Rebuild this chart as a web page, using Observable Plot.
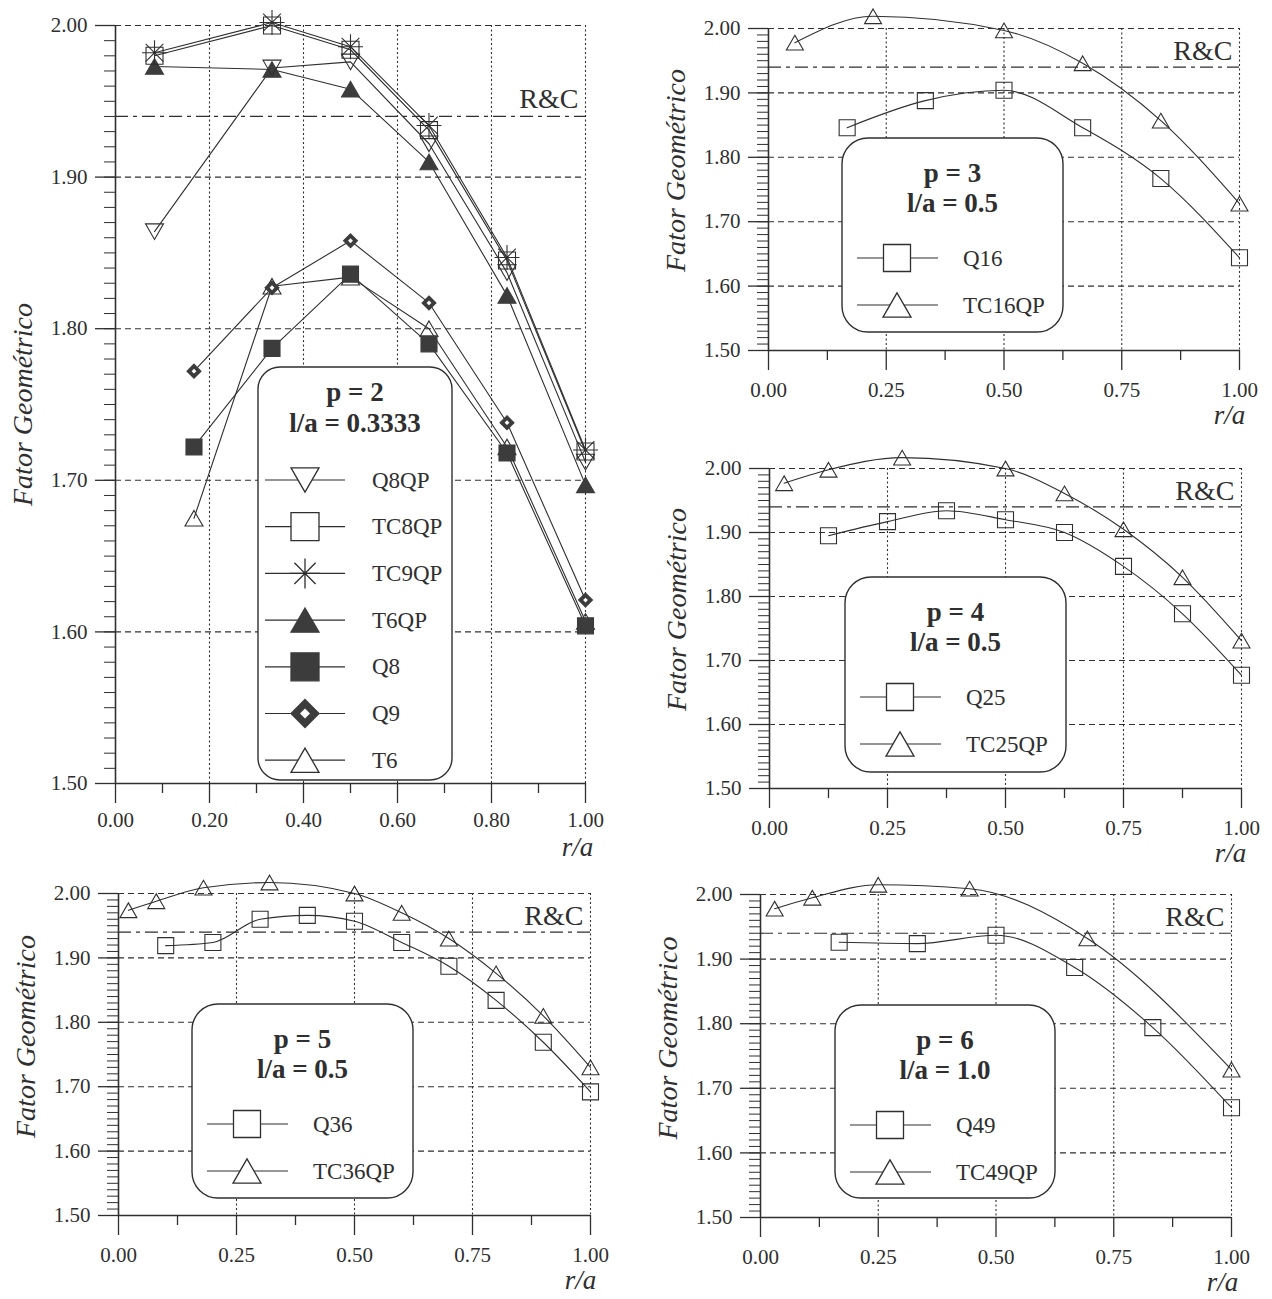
<!DOCTYPE html>
<html><head><meta charset="utf-8">
<script src="https://cdn.jsdelivr.net/npm/d3@7"></script>
<script src="https://cdn.jsdelivr.net/npm/@observablehq/plot@0.6"></script>
<style>
body{margin:0;background:#fff;}
#root{position:relative;width:1272px;height:1299px;background:#fff;overflow:hidden;font-family:"Liberation Serif","Times New Roman",serif;color:#2f2f2f;}
#root svg{position:absolute;}
</style></head><body><div id="root"></div>
<script>
// ---------------- DATA ----------------
const yLabel = "Fator Geométrico";
const xLabel = "r/a";
const rcLabel = "R&C";
const rcValue = 1.94;
const yTicks = [1.5, 1.6, 1.7, 1.8, 1.9, 2.0];
const yGridTicks = [1.6, 1.7, 1.8, 1.9, 2.0];
const yMinorTicks = d3.range(150, 201).map(d => d / 100);
const xTicksA = [0, 0.2, 0.4, 0.6, 0.8, 1.0];
const xMinorA = [0.1, 0.3, 0.5, 0.7, 0.9];
const xGridA = [0.2, 0.4, 0.6, 0.8, 1.0];
const xTicksR = [0, 0.25, 0.5, 0.75, 1.0];
const xMinorR = [0.125, 0.375, 0.625, 0.875];
const xGridR = [0.25, 0.5, 0.75, 1.0];

// Panel A: p = 2, l/a = 0.3333
const titleA = ["p = 2", "l/a = 0.3333"];
const xA_QP = [0.083, 0.333, 0.5, 0.667, 0.833, 1.0];
const xA_std = [0.167, 0.333, 0.5, 0.667, 0.833, 1.0];
const yA_Q8QP = [1.864, 1.972, 1.976, 1.922, 1.837, 1.712];
const yA_TC8QP = [1.980, 2.000, 1.984, 1.931, 1.845, 1.719];
const yA_TC9QP = [1.982, 2.002, 1.986, 1.934, 1.847, 1.720];
const yA_T6QP = [1.973, 1.971, 1.958, 1.910, 1.822, 1.697];
const yA_Q8 = [1.722, 1.787, 1.836, 1.790, 1.718, 1.604];
const yA_Q9 = [1.772, 1.827, 1.858, 1.817, 1.738, 1.621];
const yA_T6 = [1.675, 1.828, 1.834, 1.800, 1.722, 1.607];

// Panel B: p = 3, l/a = 0.5
const titleB = ["p = 3", "l/a = 0.5"];
const xB_Q16 = [0.167, 0.333, 0.5, 0.667, 0.833, 1.0];
const yB_Q16 = [1.846, 1.888, 1.904, 1.846, 1.767, 1.644];
const xB_TC16QP = [0.056, 0.222, 0.5, 0.667, 0.833, 1.0];
const yB_TC16QP = [1.978, 2.019, 1.997, 1.946, 1.857, 1.728];

// Panel C: p = 4, l/a = 0.5
const titleC = ["p = 4", "l/a = 0.5"];
const xC_Q25 = [0.125, 0.25, 0.375, 0.5, 0.625, 0.75, 0.875, 1.0];
const yC_Q25 = [1.895, 1.917, 1.934, 1.920, 1.900, 1.847, 1.773, 1.677];
const xC_TC25QP = [0.031, 0.125, 0.281, 0.5, 0.625, 0.75, 0.875, 1.0];
const yC_TC25QP = [1.977, 1.998, 2.017, 2.000, 1.961, 1.905, 1.830, 1.731];

// Panel D: p = 5, l/a = 0.5
const titleD = ["p = 5", "l/a = 0.5"];
const xD_Q36 = [0.1, 0.2, 0.3, 0.4, 0.5, 0.6, 0.7, 0.8, 0.9, 1.0];
const yD_Q36 = [1.919, 1.924, 1.960, 1.966, 1.957, 1.924, 1.887, 1.834, 1.769, 1.692];
const xD_TC36QP = [0.021, 0.08, 0.18, 0.32, 0.5, 0.6, 0.7, 0.8, 0.9, 1.0];
const yD_TC36QP = [1.974, 1.988, 2.009, 2.017, 2.000, 1.970, 1.930, 1.876, 1.810, 1.730];

// Panel E: p = 6, l/a = 1.0
const titleE = ["p = 6", "l/a = 1.0"];
const xE_Q49 = [0.167, 0.333, 0.5, 0.667, 0.833, 1.0];
const yE_Q49 = [1.926, 1.924, 1.937, 1.887, 1.794, 1.670];
const xE_TC49QP = [0.03, 0.11, 0.25, 0.444, 0.694, 1.0];
const yE_TC49QP = [1.978, 1.995, 2.015, 2.009, 1.932, 1.729];

// ---------------- STYLE ----------------
const INK = "#2f2f2f";
const DARK = "#3c3c3c";
function mk(draw) { return {draw(ctx, size) { draw(ctx, Math.sqrt(size / Math.PI)); }}; }
const SYM = {
  square: mk((c, r) => { c.moveTo(-r, -r); c.lineTo(r, -r); c.lineTo(r, r); c.lineTo(-r, r); c.closePath(); }),
  triUp: mk((c, r) => { const h = r * 0.866; c.moveTo(0, -h); c.lineTo(r, h); c.lineTo(-r, h); c.closePath(); }),
  triDown: mk((c, r) => { const h = r * 0.866; c.moveTo(0, h); c.lineTo(r, -h); c.lineTo(-r, -h); c.closePath(); }),
  diamond: mk((c, r) => { c.moveTo(0, -r); c.lineTo(r, 0); c.lineTo(0, r); c.lineTo(-r, 0); c.closePath(); }),
  star: mk((c, r) => { for (let k = 0; k < 4; k++) { const a = k * Math.PI / 4; c.moveTo(-r * Math.cos(a), -r * Math.sin(a)); c.lineTo(r * Math.cos(a), r * Math.sin(a)); } })
};
const STYLE = {
  Q8QP: {sym: "triDown", filled: false, r: 9, lr: 14},
  TC8QP: {sym: "square", filled: false, r: 8.5, lr: 14},
  TC9QP: {sym: "star", filled: false, r: 12.5, lr: 15},
  T6QP: {sym: "triUp", filled: true, r: 9, lr: 14},
  Q8: {sym: "square", filled: true, r: 8, lr: 14},
  Q9: {sym: "diamond", filled: true, r: 7, lr: 14, inner: true},
  T6: {sym: "triUp", filled: false, r: 9, lr: 14},
  sq: {sym: "square", filled: false, r: 8, lr: 13.5},
  tri: {sym: "triUp", filled: false, r: 8.5, lr: 14}
};
const rows = (xs, ys) => xs.map((x, i) => ({x, y: ys[i]}));

const panels = [
  {left: 0, top: 0, width: 620, height: 865, mt: 25, ml: 115, mr: 35, mb: 82, xTicks: xTicksA, xMinor: xMinorA, xGrid: xGridA,
   curve: "linear", xPad: 9, tDy: 0, rcDy: -17, xtDx: -8, xtDy: 72,
   series: [
     {name: "Q8QP", st: "Q8QP", d: rows(xA_QP, yA_Q8QP)},
     {name: "TC8QP", st: "TC8QP", d: rows(xA_QP, yA_TC8QP)},
     {name: "TC9QP", st: "TC9QP", d: rows(xA_QP, yA_TC9QP)},
     {name: "T6QP", st: "T6QP", d: rows(xA_QP, yA_T6QP)},
     {name: "Q8", st: "Q8", d: rows(xA_std, yA_Q8)},
     {name: "Q9", st: "Q9", d: rows(xA_std, yA_Q9)},
     {name: "T6", st: "T6", d: rows(xA_std, yA_T6)}
   ],
   drawOrder: ["T6", "Q8", "Q9", "T6QP", "Q8QP", "TC8QP", "TC9QP"],
   legend: {x: 258, y: 367, w: 194, h: 413, rx: 22, titles: titleA, tY: [25, 56], rowY0: 113, rowStep: 46.7, l1: 7, l2: 87, mx: 47, tx: 114}},
  {left: 640, top: 0, width: 624, height: 445, mt: 28, ml: 128, mr: 25, mb: 95, xTicks: xTicksR, xMinor: xMinorR, xGrid: xGridR,
   curve: "monotone-x", xPad: 12, tDy: -19, rcDy: -16, xtDx: -10, xtDy: 73,
   series: [{name: "Q16", st: "sq", d: rows(xB_Q16, yB_Q16)}, {name: "TC16QP", st: "tri", d: rows(xB_TC16QP, yB_TC16QP)}],
   legend: {x: 842, y: 138, w: 221, h: 194, rx: 26, titles: titleB}},
  {left: 640, top: 440, width: 626, height: 443, mt: 28, ml: 129, mr: 25, mb: 95, xTicks: xTicksR, xMinor: xMinorR, xGrid: xGridR,
   curve: "monotone-x", xPad: 12, tDy: -19, rcDy: -16, xtDx: -11, xtDy: 73,
   series: [{name: "Q25", st: "sq", d: rows(xC_Q25, yC_Q25)}, {name: "TC25QP", st: "tri", d: rows(xC_TC25QP, yC_TC25QP)}],
   legend: {x: 845, y: 577, w: 221, h: 195, rx: 26, titles: titleC}},
  {left: 0, top: 865, width: 620, height: 434, mt: 28, ml: 118, mr: 30, mb: 84, xTicks: xTicksR, xMinor: xMinorR, xGrid: xGridR,
   curve: "monotone-x", xPad: 12, tDy: -18, rcDy: -16, xtDx: -10, xtDy: 73,
   series: [{name: "Q36", st: "sq", d: rows(xD_Q36, yD_Q36)}, {name: "TC36QP", st: "tri", d: rows(xD_TC36QP, yD_TC36QP)}],
   legend: {x: 192, y: 1004, w: 221, h: 194, rx: 26, titles: titleD}},
  {left: 640, top: 866, width: 621, height: 433, mt: 28, ml: 120, mr: 30, mb: 82, xTicks: xTicksR, xMinor: xMinorR, xGrid: xGridR,
   curve: "monotone-x", xPad: 12, tDy: -18, rcDy: -16, xtDx: -9, xtDy: 73,
   series: [{name: "Q49", st: "sq", d: rows(xE_Q49, yE_Q49)}, {name: "TC49QP", st: "tri", d: rows(xE_TC49QP, yE_TC49QP)}],
   legend: {x: 835, y: 1005, w: 220, h: 193, rx: 26, titles: titleE}}
];
const rightLegendLayout = {tY: [35, 65], rowY0: 120, rowStep: 47, l1: 15, l2: 96, mx: 55, tx: 121};

const root = document.getElementById("root");

function dotMarks(s) {
  const st = STYLE[s.st];
  const out = [Plot.dot(s.d, {x: "x", y: "y", symbol: SYM[st.sym], r: st.r,
    fill: st.filled ? DARK : "none", stroke: st.filled ? DARK : INK, strokeWidth: 1.1})];
  if (st.inner) out.push(Plot.dot(s.d, {x: "x", y: "y", symbol: SYM.diamond, r: 2.4, fill: "white", stroke: "none"}));
  return out;
}

for (const p of panels) {
  const order = p.drawOrder ? p.drawOrder.map(n => p.series.find(s => s.name === n)) : p.series;
  const marks = [
    Plot.ruleY(yGridTicks, {stroke: INK, strokeWidth: 1.1, strokeDasharray: "6,4"}),
    Plot.ruleX(p.xGrid, {stroke: INK, strokeWidth: 1.1, strokeDasharray: "2,2.5"}),
    Plot.ruleY([rcValue], {stroke: INK, strokeWidth: 1.2, strokeDasharray: "13,5,4,5"}),
    Plot.axisY(yMinorTicks, {anchor: "left", tickSize: 11, tickFormat: () => "", label: null, strokeWidth: 1}),
    Plot.axisY(yTicks, {anchor: "left", tickSize: 20, tickPadding: 8, tickFormat: d => d.toFixed(2), label: null, fontSize: 21, strokeWidth: 1.3}),
    Plot.axisX(p.xMinor, {anchor: "bottom", tickSize: 10, tickFormat: () => "", label: null, strokeWidth: 1.3}),
    Plot.axisX(p.xTicks, {anchor: "bottom", tickSize: 20, tickPadding: p.xPad, tickFormat: d => d.toFixed(2), label: null, fontSize: 21, strokeWidth: 1.3}),
    Plot.ruleX([0], {stroke: INK, strokeWidth: 1.6}),
    Plot.ruleY([1.5], {stroke: INK, strokeWidth: 1.6}),
    ...p.series.map(s => Plot.line(s.d, {x: "x", y: "y", stroke: INK, strokeWidth: 1.1, curve: p.curve})),
    ...order.flatMap(dotMarks),
    Plot.text([{v: rcValue, t: rcLabel}], {y: "v", text: "t", frameAnchor: "right", textAnchor: "end", dx: -7, dy: p.rcDy, fontSize: 28, fill: INK}),
    Plot.text([yLabel], {text: d => d, frameAnchor: "left", textAnchor: "middle", rotate: -90, dx: -92, dy: p.tDy, fontSize: 28, fontStyle: "italic", fill: INK}),
    Plot.text([xLabel], {text: d => d, frameAnchor: "bottom-right", textAnchor: "middle", dx: p.xtDx, dy: p.xtDy, fontSize: 27, fontStyle: "italic", fill: INK})
  ];
  const svg = Plot.plot({
    width: p.width, height: p.height,
    marginTop: p.mt, marginLeft: p.ml, marginRight: p.mr, marginBottom: p.mb,
    x: {domain: [0, 1]}, y: {domain: [1.5, 2.0]},
    style: {fontFamily: '"Liberation Serif", "Times New Roman", serif', color: INK, background: "transparent", overflow: "visible"},
    marks
  });
  svg.style.position = "absolute";
  svg.style.left = p.left + "px";
  svg.style.top = p.top + "px";
  root.appendChild(svg);

  // legend box
  const L = Object.assign({}, rightLegendLayout, p.legend);
  const lg = d3.create("svg").attr("width", L.w + 4).attr("height", L.h + 4)
    .style("left", (L.x - 2) + "px").style("top", (L.y - 2) + "px").style("overflow", "visible");
  lg.append("rect").attr("x", 2).attr("y", 2).attr("width", L.w).attr("height", L.h).attr("rx", L.rx)
    .attr("fill", "white").attr("stroke", INK).attr("stroke-width", 1.4);
  L.titles.forEach((t, i) => lg.append("text").attr("x", 2 + L.w / 2).attr("y", 2 + L.tY[i]).attr("text-anchor", "middle")
    .attr("dominant-baseline", "central").attr("font-weight", "bold").attr("font-size", 27).attr("fill", INK)
    .attr("font-family", '"Liberation Serif", serif').text(t));
  p.series.forEach((s, i) => {
    const st = STYLE[s.st];
    const y = 2 + L.rowY0 + i * L.rowStep;
    lg.append("line").attr("x1", 2 + L.l1).attr("x2", 2 + L.l2).attr("y1", y).attr("y2", y).attr("stroke", INK).attr("stroke-width", 1.2);
    const path = d3.path(); SYM[st.sym].draw(path, Math.PI * st.lr * st.lr);
    lg.append("path").attr("d", path.toString()).attr("transform", `translate(${2 + L.mx},${y})`)
      .attr("fill", st.filled ? DARK : (st.sym === "star" ? "none" : "white")).attr("stroke", st.filled ? DARK : INK).attr("stroke-width", 1.3);
    if (st.inner) {
      const ip = d3.path(); SYM.diamond.draw(ip, Math.PI * 25);
      lg.append("path").attr("d", ip.toString()).attr("transform", `translate(${2 + L.mx},${y})`).attr("fill", "white");
    }
    lg.append("text").attr("x", 2 + L.tx).attr("y", y).attr("dominant-baseline", "central").attr("font-size", 23)
      .attr("fill", INK).attr("font-family", '"Liberation Serif", serif').text(s.name);
  });
  root.appendChild(lg.node());
}
</script></body></html>
